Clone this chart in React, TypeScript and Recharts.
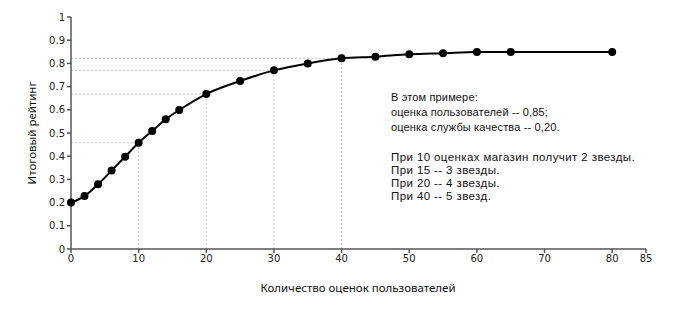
import React from 'react';
import { LineChart, Line, XAxis, YAxis, ReferenceLine } from 'recharts';

const xValues = [0, 2, 4, 6, 8, 10, 12, 14, 16, 20, 25, 30, 35, 40, 45, 50, 55, 60, 65, 80];
const ratingValues = [0.2, 0.228, 0.279, 0.338, 0.398, 0.458, 0.509, 0.559, 0.599, 0.668, 0.724, 0.77, 0.8, 0.822, 0.829, 0.839, 0.844, 0.849, 0.849, 0.849];
const xTicks = [0, 10, 20, 30, 40, 50, 60, 70, 80, 85];
const yTicks = [0, 0.1, 0.2, 0.3, 0.4, 0.5, 0.6, 0.7, 0.8, 0.9, 1];
const guideX = [10, 20, 30, 40];
const noteLines1 = ['В этом примере:', 'оценка пользователей -- 0,85;', 'оценка службы качества -- 0,20.'];
const noteLines2 = ['При 10 оценках магазин получит 2 звезды.', 'При 15 -- 3 звезды.', 'При 20 -- 4 звезды.', 'При 40 -- 5 звезд.'];

const data = xValues.map((x, i) => ({ x, y: ratingValues[i] }));
const guides = guideX.map((gx) => ({ x: gx, y: ratingValues[xValues.indexOf(gx)] }));

const textFont = '"Noto Sans", sans-serif';
const noteFont = '"Liberation Sans", sans-serif';
const tickStyle = { fontFamily: '"DejaVu Sans", sans-serif', fontSize: 10, fill: '#222' };

export default function App() {
  return (
    <div style={{ position: 'absolute', left: 0, top: 0, width: 675, height: 319, background: '#fff' }}>
      <LineChart width={675} height={319} data={data} margin={{ top: 17, right: 29, bottom: 40, left: 0 }}>
        <XAxis
          dataKey="x"
          type="number"
          domain={[0, 85]}
          ticks={xTicks}
          interval={0}
          height={30}
          stroke="#555"
          strokeWidth={1.5}
          tickSize={4}
          tick={tickStyle}
        />
        <YAxis
          type="number"
          domain={[0, 1]}
          ticks={yTicks}
          interval={0}
          width={71}
          stroke="#555"
          strokeWidth={1.5}
          tickSize={4}
          tick={tickStyle}
        />
        {guides.map((g) => (
          <ReferenceLine
            key={'h' + g.x}
            segment={[{ x: 0, y: g.y }, { x: g.x, y: g.y }]}
            stroke="#c8c8c8"
            strokeDasharray="2 2"
            strokeWidth={1}
          />
        ))}
        {guides.map((g) => (
          <ReferenceLine
            key={'v' + g.x}
            segment={[{ x: g.x, y: 0 }, { x: g.x, y: g.y }]}
            stroke="#c8c8c8"
            strokeDasharray="2 2"
            strokeWidth={1}
          />
        ))}
        <Line
          dataKey="y"
          type="monotone"
          stroke="#000"
          strokeWidth={2}
          dot={{ r: 4, fill: '#000', stroke: '#000', strokeWidth: 0 }}
          isAnimationActive={false}
        />
      </LineChart>
      <div
        style={{
          position: 'absolute',
          left: 31,
          top: 133,
          transform: 'translate(-50%, -50%) rotate(-90deg)',
          whiteSpace: 'nowrap',
          fontFamily: textFont,
          fontSize: 11.5,
          color: '#111',
        }}
      >
        Итоговый рейтинг
      </div>
      <div
        style={{
          position: 'absolute',
          left: 358,
          top: 287,
          transform: 'translate(-50%, -50%)',
          whiteSpace: 'nowrap',
          fontFamily: textFont,
          fontSize: 11.5,
          color: '#111',
        }}
      >
        Количество оценок пользователей
      </div>
      <div style={{ position: 'absolute', left: 391, top: 90, fontFamily: noteFont, fontSize: 11, letterSpacing: '0.15px', color: '#111', lineHeight: '15px', whiteSpace: 'nowrap' }}>
        {noteLines1.map((t) => (
          <div key={t}>{t}</div>
        ))}
      </div>
      <div style={{ position: 'absolute', left: 391, top: 151, fontFamily: noteFont, fontSize: 11.5, letterSpacing: '0.4px', color: '#111', lineHeight: '13px', whiteSpace: 'nowrap' }}>
        {noteLines2.map((t) => (
          <div key={t}>{t}</div>
        ))}
      </div>
    </div>
  );
}
